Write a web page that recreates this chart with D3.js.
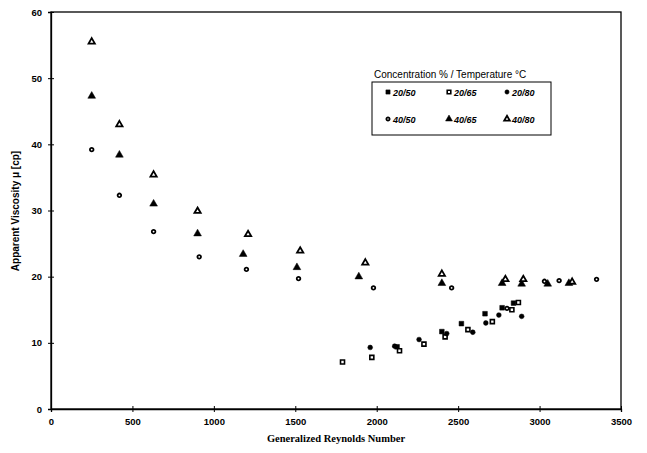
<!DOCTYPE html>
<html><head><meta charset="utf-8">
<script src="https://cdn.jsdelivr.net/npm/d3@7"></script>
<style>body{margin:0;background:#fff;}svg{display:block;}</style>
</head><body>
<svg id="c" width="647" height="453"></svg>
<script>
const xTicks = [0,500,1000,1500,2000,2500,3000,3500];
const yTicks = [0,10,20,30,40,50,60];
const seriesNames = ["20/50","20/65","20/80","40/50","40/65","40/80"];
const re2050 = [2125,2400,2520,2665,2770,2840];
const mu2050 = [9.4,11.7,12.9,14.4,15.3,16.0];
const re2065 = [1790,1970,2140,2290,2420,2560,2710,2830,2870];
const mu2065 = [7.1,7.8,8.8,9.8,10.9,12.0,13.2,15.0,16.1];
const re2080 = [1960,2110,2260,2430,2590,2670,2750,2890];
const mu2080 = [9.3,9.5,10.5,11.4,11.6,13.0,14.2,14.0];
const re4050 = [250,420,630,910,1200,1520,1980,2460,2800,3030,3120,3350];
const mu4050 = [39.2,32.3,26.8,23.0,21.1,19.7,18.3,18.3,15.2,19.3,19.4,19.6];
const re4065 = [250,420,630,900,1180,1510,1890,2400,2770,2890,3050,3180];
const mu4065 = [47.3,38.4,31.0,26.5,23.4,21.4,20.0,19.0,19.0,18.9,18.9,19.0];
const re4080 = [250,420,630,900,1210,1530,1930,2400,2790,2900,3200];
const mu4080 = [55.5,43.0,35.4,29.9,26.4,23.9,22.1,20.4,19.6,19.6,19.2];

const series = [
  {name:seriesNames[0], re:re2050, mu:mu2050, sym:d3.symbolSquare, size:22, fill:true, sw:0.5},
  {name:seriesNames[1], re:re2065, mu:mu2065, sym:d3.symbolSquare, size:16, fill:false, sw:1.6},
  {name:seriesNames[2], re:re2080, mu:mu2080, sym:d3.symbolCircle, size:18, fill:true, sw:0.5},
  {name:seriesNames[3], re:re4050, mu:mu4050, sym:d3.symbolCircle, size:10, fill:false, sw:1.8},
  {name:seriesNames[4], re:re4065, mu:mu4065, sym:d3.symbolTriangle, size:26, fill:true, sw:0.5},
  {name:seriesNames[5], re:re4080, mu:mu4080, sym:d3.symbolTriangle, size:17, fill:false, sw:1.8}
];

const svg = d3.select("#c");
const L=51, R=621, T=12, B=409;
const x = d3.scaleLinear().domain([0,3500]).range([L,R]);
const y = d3.scaleLinear().domain([0,60]).range([B,T]);

svg.append("rect").attr("x",L).attr("y",T).attr("width",R-L).attr("height",B-T)
  .attr("fill","none").attr("stroke","#000").attr("stroke-width",1.3);

const xa = svg.append("g").attr("transform",`translate(0,${B})`)
  .call(d3.axisBottom(x).tickValues(xTicks).tickSize(3).tickPadding(6).tickFormat(d3.format("d")));
const ya = svg.append("g").attr("transform",`translate(${L},0)`)
  .call(d3.axisLeft(y).tickValues(yTicks).tickSize(3).tickPadding(6).tickFormat(d3.format("d")));
[xa,ya].forEach(a=>{
  a.select(".domain").attr("stroke","#000").attr("stroke-width",1.3);
  a.selectAll(".tick line").attr("stroke","#000");
  a.selectAll("text").attr("font-family","Liberation Sans, Arial, sans-serif")
    .attr("font-weight","bold").attr("font-size",9.5).attr("fill","#000");
});
ya.selectAll(".tick line").attr("x2",3).attr("x1",-3);
xa.selectAll(".tick line").attr("y1",-3).attr("y2",3);

svg.append("text").attr("x",336).attr("y",442).attr("text-anchor","middle")
  .attr("font-family","Liberation Serif, Times New Roman, serif").attr("font-weight","bold")
  .attr("font-size",10.5).text("Generalized Reynolds Number");
svg.append("text").attr("transform","translate(19,211) rotate(-90)").attr("text-anchor","middle")
  .attr("font-family","Liberation Sans, Arial, sans-serif").attr("font-weight","bold")
  .attr("font-size",10).text("Apparent Viscosity \u03bc [cp]");

function drawMarker(g, s){
  const path = d3.symbol().type(s.sym).size(s.size)();
  g.append("path").attr("d",path)
    .attr("fill", s.fill ? "#000" : "#fff")
    .attr("stroke","#000").attr("stroke-width", s.sw);
}

series.forEach(s=>{
  const g = svg.append("g");
  s.re.forEach((r,i)=>{
    const m = g.append("g").attr("transform",`translate(${x(r)},${y(s.mu[i])})`);
    drawMarker(m,s);
  });
});

svg.append("text").attr("x",374).attr("y",78)
  .attr("font-family","Liberation Sans, Arial, sans-serif").attr("font-size",10)
  .text("Concentration % / Temperature \u00b0C");
svg.append("rect").attr("x",372).attr("y",82).attr("width",179).attr("height",53)
  .attr("fill","#fff").attr("stroke","#000").attr("stroke-width",1);
const colX=[388,449,507], rowY=[92,119];
series.forEach((s,i)=>{
  const cx=colX[i%3], cy=rowY[Math.floor(i/3)];
  const m = svg.append("g").attr("transform",`translate(${cx},${cy})`);
  drawMarker(m,{...s,size:s.size*0.8});
  svg.append("text").attr("x",cx+5).attr("y",cy+3.5)
    .attr("font-family","Liberation Sans, Arial, sans-serif").attr("font-weight","bold")
    .attr("font-style","italic").attr("font-size",9).text(s.name);
});
</script>
</body></html>
